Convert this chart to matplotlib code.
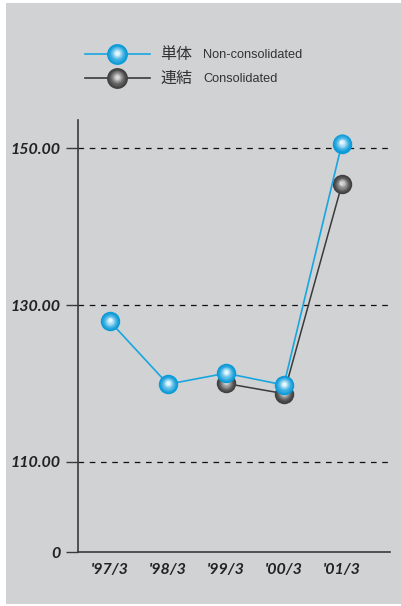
import matplotlib
matplotlib.use("Agg")
import numpy as np
import matplotlib.pyplot as plt
import matplotlib.transforms as mtransforms
from matplotlib.colors import to_rgb
from matplotlib.patches import Rectangle

# data
periods = ["'97/3", "'98/3", "'99/3", "'00/3", "'01/3"]
non_consolidated = [127.9, 119.9, 121.3, 119.8, 150.6]
consolidated = [None, None, 120.0, 118.7, 145.4]
y_ticks = [150.0, 130.0, 110.0]
y_tick_labels = ["150.00", "130.00", "110.00"]
zero_label = "0"
legend_jp = ["単体", "連結"]
legend_en = ["Non-consolidated", "Consolidated"]

# broken axis: "0" sits just below 110 on the same linear scale
Y_ZERO_POS = 98.5

BLUE = "#17a6e0"
DARK = "#3a3a3a"
BLUE_EDGE, BLUE_HI = "#0a9ad8", "#e4f7fe"
GRAY_EDGE, GRAY_HI = "#404040", "#d8d8d8"
BG = "#d1d2d4"
TXT = "#222222"

plt.rcParams["font.family"] = ["Lato", "DejaVu Sans"]

fig = plt.figure(figsize=(4.02, 6.06), dpi=100)
fig.patch.set_facecolor("white")
fig.add_artist(Rectangle((6 / 402, 2 / 606), 396 / 402, 601 / 606,
                         transform=fig.transFigure, facecolor=BG,
                         edgecolor="none", zorder=-5))

ax = fig.add_axes([77.5 / 402, 54 / 606, 312.5 / 402, 432 / 606])
ax.set_facecolor("none")


def sphere(axis, xs, ys, edge, hi, size, z, steps=12):
    # stacked circles, shrinking and lightening towards a highlight just above centre
    c0, c1 = np.array(to_rgb(edge)), np.array(to_rgb(hi))
    for i in range(steps):
        t = i / (steps - 1)
        col = c0 + (c1 - c0) * t ** 1.6
        tr = mtransforms.offset_copy(axis.transData, fig=fig, x=-0.4 * t, y=1.2 * t, units="dots")
        axis.plot(xs, ys, "o", ms=size * (1 - 0.8 * t), color=col, mec="none",
                  linestyle="none", zorder=z + 0.001 * i, transform=tr)


x_all = list(range(len(periods)))
xc = [x for x, v in zip(x_all, consolidated) if v is not None]
yc = [v for v in consolidated if v is not None]

ax.plot(xc, yc, color=DARK, lw=1.1, zorder=3)
sphere(ax, xc, yc, GRAY_EDGE, GRAY_HI, 14, 4)
ax.plot(x_all, non_consolidated, color=BLUE, lw=1.2, zorder=5)
sphere(ax, x_all, non_consolidated, BLUE_EDGE, BLUE_HI, 14, 6)

for yv in y_ticks:
    ax.axhline(yv, color="#111111", lw=0.9, ls=(0, (4.5, 4.5)), zorder=1)

ax.set_xlim(-0.56, 4.83)
ax.set_ylim(Y_ZERO_POS, 153.6)

ax.set_yticks(y_ticks + [Y_ZERO_POS])
ax.set_yticklabels(y_tick_labels + [zero_label])
ax.set_xticks(x_all)
ax.set_xticklabels(periods)
ax.tick_params(axis="y", length=9, width=1, color=DARK, pad=3,
               labelsize=11.5, labelcolor=TXT)
ax.tick_params(axis="x", length=0, pad=8, labelsize=11.5, labelcolor=TXT)
for lab in ax.get_xticklabels() + ax.get_yticklabels():
    lab.set_fontweight("bold")
    lab.set_fontstyle("italic")

for side in ["top", "right"]:
    ax.spines[side].set_visible(False)
for side in ["left", "bottom"]:
    ax.spines[side].set_color(DARK)
    ax.spines[side].set_linewidth(1.2)

# legend drawn in figure pixel space
lg = fig.add_axes([0, 0, 1, 1])
lg.set_xlim(0, 402)
lg.set_ylim(606, 0)
lg.axis("off")
lg.set_facecolor("none")
rows = [(54, BLUE, BLUE_EDGE, BLUE_HI), (78, DARK, GRAY_EDGE, GRAY_HI)]
for row, (yy, col, edge, hi) in enumerate(rows):
    lg.plot([85, 150], [yy, yy], color=col, lw=1.2, zorder=2)
    sphere(lg, [117], [yy], edge, hi, 15, 3)
    lg.text(160, yy, legend_jp[row], fontsize=11.5, color="#333333", va="center",
            family=["Noto Sans CJK JP", "DejaVu Sans"])
    lg.text(203, yy + 0.5, legend_en[row], fontsize=9.2, color="#333333", va="center",
            family=["Liberation Sans", "DejaVu Sans"])

fig.savefig("out.png", dpi=100, facecolor=fig.get_facecolor())
